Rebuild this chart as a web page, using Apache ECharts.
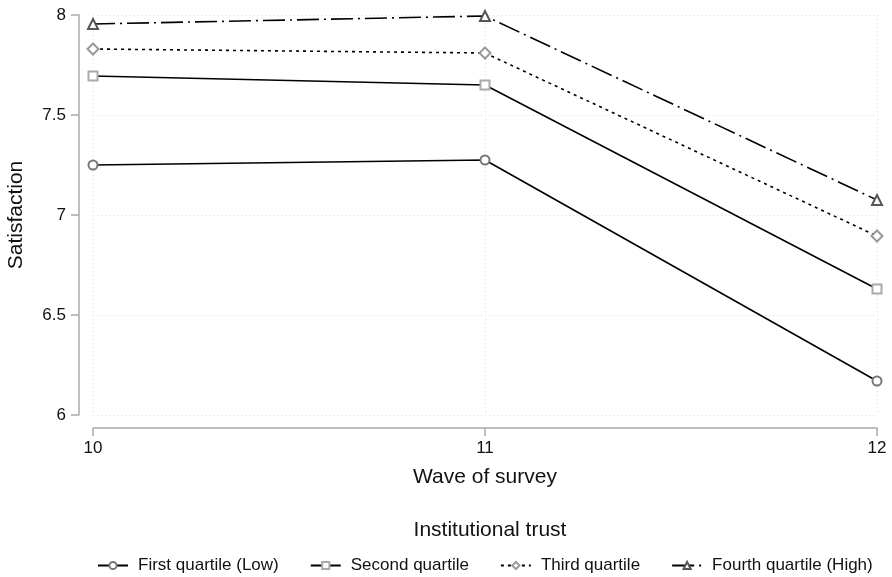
<!DOCTYPE html>
<html><head><meta charset="utf-8">
<script src="https://cdn.jsdelivr.net/npm/echarts@6/dist/echarts.min.js"></script>
<style>html,body{margin:0;padding:0;background:#fff}#c{width:892px;height:577px}</style>
</head><body><div id="c"></div>
<script>
const waves = [10, 11, 12];
const seriesNames = ['First quartile (Low)', 'Second quartile', 'Third quartile', 'Fourth quartile (High)'];
const firstQ = [7.25, 7.275, 6.17];
const secondQ = [7.695, 7.65, 6.63];
const thirdQ = [7.83, 7.81, 6.895];
const fourthQ = [7.955, 7.995, 7.075];
const yTicks = [6, 6.5, 7, 7.5, 8];

const FONT = 'Liberation Sans';
const chart = echarts.init(document.getElementById('c'), null, {renderer: 'canvas'});
function mk(name, vals, sym, col, dash, size) {
  return {
    name, type: 'line', data: waves.map((w, i) => [w, vals[i]]),
    symbol: sym, symbolSize: size,
    itemStyle: {color: col, borderWidth: 1.5},
    lineStyle: {color: '#000', width: 1.6, type: dash},
    emphasis: {disabled: true}, z: 3
  };
}
chart.setOption({
  animation: false,
  textStyle: {fontFamily: FONT},
  grid: {left: 93, right: 15, top: 15, bottom: 162, containLabel: false, outerBoundsMode: 'none'},
  legend: {
    data: seriesNames, top: 557, left: 97, padding: 0, itemGap: 31, itemWidth: 30, itemHeight: 9,
    textStyle: {fontFamily: FONT, fontSize: 17, color: '#111', padding: [0, 0, 0, 5]}
  },
  title: {text: 'Institutional trust', left: 485, top: 515, textAlign: 'center',
    textStyle: {fontFamily: FONT, fontSize: 21, fontWeight: 'normal', color: '#111'}},
  xAxis: {
    type: 'value', min: 10, max: 12, interval: 1, offset: 13,
    name: 'Wave of survey', nameLocation: 'middle', nameGap: 39,
    nameTextStyle: {fontFamily: FONT, fontSize: 21, color: '#111'},
    axisLine: {lineStyle: {color: '#aaa', width: 1.5}},
    axisTick: {length: 8, lineStyle: {color: '#aaa', width: 1.5}},
    axisLabel: {fontFamily: FONT, fontSize: 17, color: '#111', margin: 12},
    splitLine: {show: true, lineStyle: {color: '#ddd', type: [1, 3], width: 1}}
  },
  yAxis: {
    type: 'value', min: 6, max: 8, interval: 0.5, offset: 14,
    name: 'Satisfaction', nameLocation: 'middle', nameGap: 52, nameRotate: 90,
    nameTextStyle: {fontFamily: FONT, fontSize: 21, color: '#111'},
    axisLine: {show: true, lineStyle: {color: '#aaa', width: 1.5}},
    axisTick: {show: true, length: 8, lineStyle: {color: '#aaa', width: 1.5}},
    axisLabel: {fontFamily: FONT, fontSize: 17, color: '#111', margin: 13,
      formatter: v => yTicks.includes(v) ? String(v) : ''},
    splitLine: {show: true, lineStyle: {color: '#ddd', type: [1, 3], width: 1}}
  },
  series: [
    mk(seriesNames[0], firstQ, 'emptyCircle', '#777', 'solid', 9),
    mk(seriesNames[1], secondQ, 'emptyRect', '#aaa', 'solid', 9),
    mk(seriesNames[2], thirdQ, 'emptyDiamond', '#999', [3, 4], 11),
    mk(seriesNames[3], fourthQ, 'emptyTriangle', '#555', [22, 5, 2, 5], 10)
  ]
});
</script></body></html>
